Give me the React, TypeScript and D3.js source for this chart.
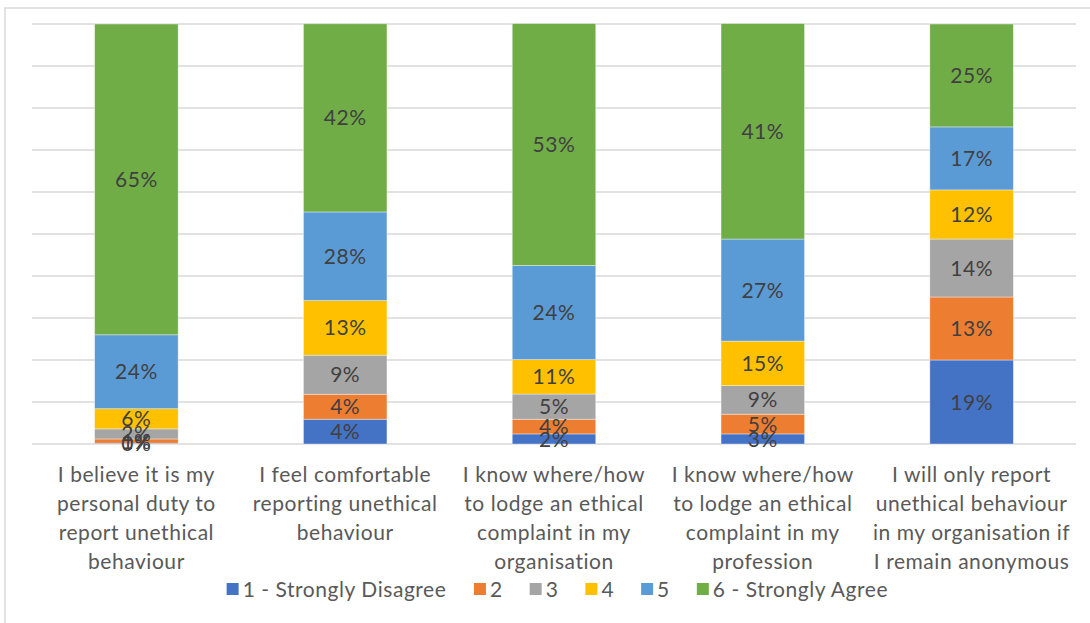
import React from "react";
import * as d3 from "d3";

const categoryLines: string[][] = [
  ["I believe it is my", "personal duty to", "report unethical", "behaviour"],
  ["I feel comfortable", "reporting unethical", "behaviour"],
  ["I know where/how", "to lodge an ethical", "complaint in my", "organisation"],
  ["I know where/how", "to lodge an ethical", "complaint in my", "profession"],
  ["I will only report", "unethical behaviour", "in my organisation if", "I remain anonymous"],
];

const seriesNames = ["1 - Strongly Disagree", "2", "3", "4", "5", "6 - Strongly Agree"];
const seriesColors = ["#4472C4", "#ED7D31", "#A5A5A5", "#FFC000", "#5B9BD5", "#70AD47"];

// plotted shares (percent of bar height)
const s1 = [0.2, 5.9, 2.4, 2.4, 20.0];
const s2 = [1.0, 5.95, 3.5, 4.7, 15.0];
const s3 = [2.4, 9.3, 6.0, 6.8, 13.8];
const s4 = [4.8, 13.0, 8.2, 10.6, 11.7];
const s5 = [17.6, 21.1, 22.4, 24.3, 15.0];
const s6 = [74.0, 44.8, 57.6, 51.3, 24.5];

// data label texts
const l1 = ["0%", "4%", "2%", "3%", "19%"];
const l2 = ["1%", "4%", "4%", "5%", "13%"];
const l3 = ["2%", "9%", "5%", "9%", "14%"];
const l4 = ["6%", "13%", "11%", "15%", "12%"];
const l5 = ["24%", "28%", "24%", "27%", "17%"];
const l6 = ["65%", "42%", "53%", "41%", "25%"];

const yTicks = [0, 10, 20, 30, 40, 50, 60, 70, 80, 90, 100];

const seriesValues = [s1, s2, s3, s4, s5, s6];
const seriesLabels = [l1, l2, l3, l4, l5, l6];

const W = 1090;
const H = 623;
const FONT = "Lato, 'Open Sans', sans-serif";
const FS = 21;
const LS = 0.55;

function measure(text: string, size: number): number {
  if (typeof document === "undefined") return text.length * size * 0.5;
  const c = document.createElement("canvas");
  const ctx = c.getContext("2d");
  if (!ctx) return text.length * size * 0.5;
  ctx.font = `${size}px ${FONT}`;
  return ctx.measureText(text).width + LS * text.length;
}

export default function App() {
  const left = 32;
  const right = 1076;
  const top = 24;
  const bottom = 444;

  const idx = categoryLines.map((_, i) => String(i));
  const x = d3.scaleBand<string>().domain(idx).range([left, right]).paddingInner(0.6).paddingOuter(0.3);
  const y = d3.scaleLinear().domain([0, 100]).range([bottom, top]);

  const table = idx.map((k, i) => {
    const row: Record<string, number | string> = { key: k };
    seriesNames.forEach((n, j) => (row[n] = seriesValues[j][i]));
    return row;
  });
  const stacked = d3.stack<Record<string, number | string>>().keys(seriesNames)(table as any);

  // legend layout
  const sw = 12;
  const swGap = 4;
  const itemGap = 27;
  const widths = seriesNames.map((n) => sw + swGap + measure(n, FS));
  const total = d3.sum(widths) + itemGap * (seriesNames.length - 1);
  const legendCenter = 558;
  let cursor = legendCenter - total / 2;
  const legendX = widths.map((w) => {
    const p = cursor;
    cursor += w + itemGap;
    return p;
  });
  const legendY = 589;

  return (
    <svg
      width={W}
      height={H}
      style={{ position: "absolute", left: 0, top: 0, background: "#fff" }}
      fontFamily={FONT}
      letterSpacing={LS}
    >
      <rect x={5} y={8} width={W + 20} height={H + 20} fill="#fff" stroke="#d9d9d9" strokeWidth={1.5} />
      {yTicks.map((t) => (
        <line key={t} x1={left} x2={right} y1={y(t)} y2={y(t)} stroke="#d9d9d9" strokeWidth={1.5} />
      ))}
      {stacked.map((layer, j) => (
        <g key={j} fill={seriesColors[j]}>
          {layer.map((d, i) => (
            <rect
              key={i}
              x={x(String(i))}
              width={x.bandwidth()}
              y={y(d[1])}
              height={Math.max(0, y(d[0]) - y(d[1]))}
              stroke="#ffffff"
              strokeOpacity={0.5}
              strokeWidth={0.75}
            />
          ))}
        </g>
      ))}
      {stacked.map((layer, j) => (
        <g key={"l" + j} fill="#404040" fontSize={FS} textAnchor="middle">
          {layer.map((d, i) => (
            <text key={i} x={(x(String(i)) as number) + x.bandwidth() / 2} y={(y(d[0]) + y(d[1])) / 2} dy="0.36em">
              {seriesLabels[j][i]}
            </text>
          ))}
        </g>
      ))}
      {categoryLines.map((lines, i) => (
        <text
          key={"c" + i}
          x={(x(String(i)) as number) + x.bandwidth() / 2}
          y={482}
          fill="#595959"
          fontSize={FS}
          textAnchor="middle"
        >
          {lines.map((ln, k) => (
            <tspan key={k} x={(x(String(i)) as number) + x.bandwidth() / 2} y={482 + k * 29}>
              {ln}
            </tspan>
          ))}
        </text>
      ))}
      {seriesNames.map((n, j) => (
        <g key={"lg" + j}>
          <rect x={legendX[j]} y={legendY - sw / 2} width={sw} height={sw} fill={seriesColors[j]} />
          <text x={legendX[j] + sw + swGap} y={legendY} dy="0.36em" fill="#595959" fontSize={FS}>
            {n}
          </text>
        </g>
      ))}
    </svg>
  );
}
